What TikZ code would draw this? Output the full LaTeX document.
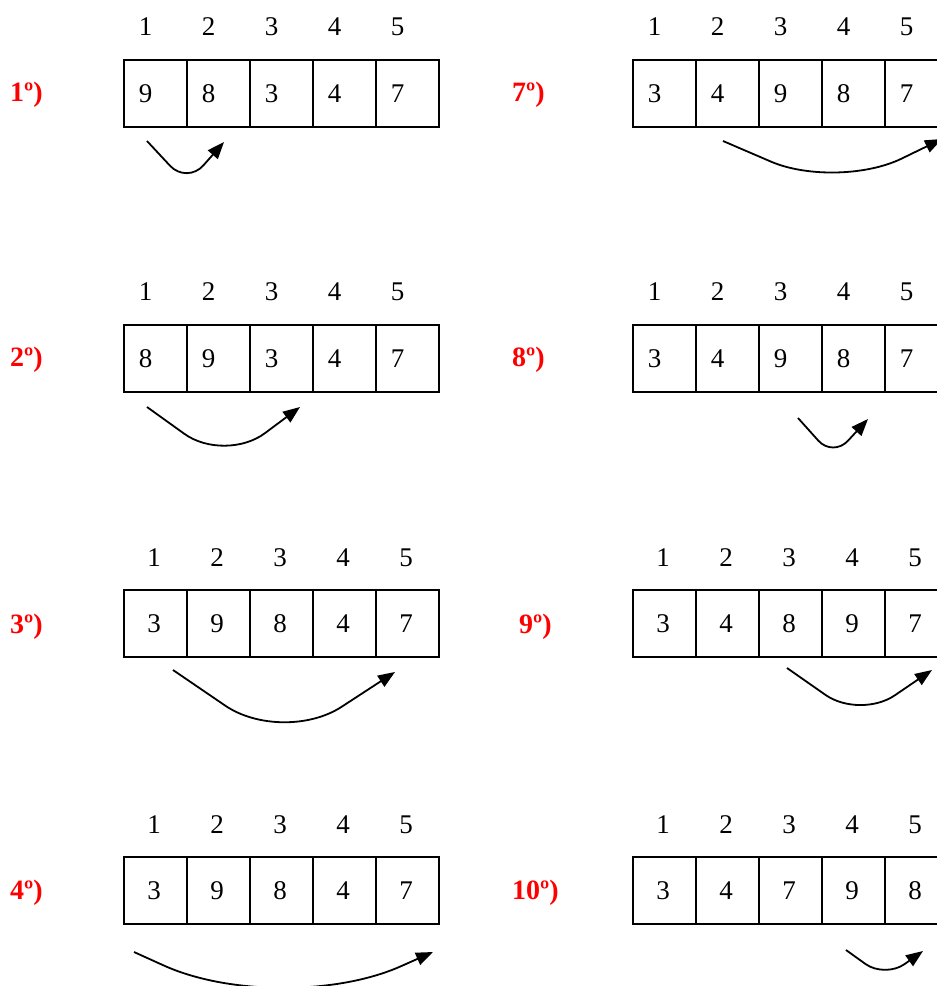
\documentclass[tikz,border=0pt]{standalone}
\usepackage{fontspec}
\setmainfont{Liberation Serif}
\usetikzlibrary{arrows.meta}

\tikzset{
  cellbox/.style={draw, line width=2pt, minimum width=63pt, minimum height=67pt, inner sep=0pt},
  idx/.style={font=\fontsize{27}{32}\selectfont, inner sep=0pt},
  val/.style={font=\fontsize{27}{32}\selectfont, inner sep=0pt},
  passo/.style={font=\fontsize{28}{33}\selectfont\bfseries, text=red, anchor=west, inner sep=0pt},
  troca/.style={line width=1.8pt, -{Triangle[length=17pt,width=13pt]}}
}

\begin{document}
\begin{tikzpicture}[x=1pt,y=-1pt]
\useasboundingbox (0,0) rectangle (937,986);
% left column
\begin{scope}[shift={(124,60)}]
\foreach \v [count=\i] in {9,8,3,4,7} {
  \node[cellbox] (p1c\i) at (-31.5+63*\i,33.5) {};
  \node[idx] (p1h\i) at (-41.5+63*\i,-33) {\i};
  \node[val] (p1v\i) at (-41.5+63*\i,33.5) {\v};
}
\node[passo] (p1lab) at (-114,35) {1º)};
\coordinate (p1s) at (23,81);
\coordinate (p1k) at (63,124);
\coordinate (p1e) at (100,82);
\draw[troca, rounded corners=25pt] (p1s) -- (p1k) -- (p1e);
\end{scope}
\begin{scope}[shift={(124,325)}]
\foreach \v [count=\i] in {8,9,3,4,7} {
  \node[cellbox] (p2c\i) at (-31.5+63*\i,33.5) {};
  \node[idx] (p2h\i) at (-41.5+63*\i,-33) {\i};
  \node[val] (p2v\i) at (-41.5+63*\i,33.5) {\v};
}
\node[passo] (p2lab) at (-114,35) {2º)};
\coordinate (p2s) at (23,82);
\coordinate (p2k) at (101,138);
\coordinate (p2e) at (176,82);
\draw[troca, rounded corners=50pt] (p2s) -- (p2k) -- (p2e);
\end{scope}
\begin{scope}[shift={(124,590)}]
\foreach \v [count=\i] in {3,9,8,4,7} {
  \node[cellbox] (p3c\i) at (-31.5+63*\i,33.5) {};
  \node[idx] (p3h\i) at (-33+63*\i,-32) {\i};
  \node[val] (p3v\i) at (-33+63*\i,33.5) {\v};
}
\node[passo] (p3lab) at (-114,37) {3º)};
\coordinate (p3s) at (49,80);
\coordinate (p3k) at (159,155);
\coordinate (p3e) at (271,82);
\draw[troca, rounded corners=70pt] (p3s) -- (p3k) -- (p3e);
\end{scope}
\begin{scope}[shift={(124,857)}]
\foreach \v [count=\i] in {3,9,8,4,7} {
  \node[cellbox] (p4c\i) at (-31.5+63*\i,33.5) {};
  \node[idx] (p4h\i) at (-33+63*\i,-32) {\i};
  \node[val] (p4v\i) at (-33+63*\i,33.5) {\v};
}
\node[passo] (p4lab) at (-114,36) {4º)};
\coordinate (p4s) at (10,95);
\coordinate (p4k) at (158,162);
\coordinate (p4e) at (309,95);
\draw[troca, rounded corners=130pt] (p4s) -- (p4k) -- (p4e);
\end{scope}
% right column
\begin{scope}[shift={(633,60)}]
\foreach \v [count=\i] in {3,4,9,8,7} {
  \node[cellbox] (p7c\i) at (-31.5+63*\i,33.5) {};
  \node[idx] (p7h\i) at (-41.5+63*\i,-33) {\i};
  \node[val] (p7v\i) at (-41.5+63*\i,33.5) {\v};
}
\node[passo] (p7lab) at (-121,35) {7º)};
\coordinate (p7s) at (90,81);
\coordinate (p7k) at (204,130);
\coordinate (p7e) at (309,79);
\draw[troca, rounded corners=72pt] (p7s) -- (p7k) -- (p7e);
\end{scope}
\begin{scope}[shift={(633,325)}]
\foreach \v [count=\i] in {3,4,9,8,7} {
  \node[cellbox] (p8c\i) at (-31.5+63*\i,33.5) {};
  \node[idx] (p8h\i) at (-41.5+63*\i,-33) {\i};
  \node[val] (p8v\i) at (-41.5+63*\i,33.5) {\v};
}
\node[passo] (p8lab) at (-121,35) {8º)};
\coordinate (p8s) at (165,93);
\coordinate (p8k) at (200,132);
\coordinate (p8e) at (235,94);
\draw[troca, rounded corners=22pt] (p8s) -- (p8k) -- (p8e);
\end{scope}
\begin{scope}[shift={(633,590)}]
\foreach \v [count=\i] in {3,4,8,9,7} {
  \node[cellbox] (p9c\i) at (-31.5+63*\i,33.5) {};
  \node[idx] (p9h\i) at (-33+63*\i,-32) {\i};
  \node[val] (p9v\i) at (-33+63*\i,33.5) {\v};
}
\node[passo] (p9lab) at (-114,37) {9º)};
\coordinate (p9s) at (154,78);
\coordinate (p9k) at (227,129);
\coordinate (p9e) at (299,80);
\draw[troca, rounded corners=42pt] (p9s) -- (p9k) -- (p9e);
\end{scope}
\begin{scope}[shift={(633,857)}]
\foreach \v [count=\i] in {3,4,7,9,8} {
  \node[cellbox] (p10c\i) at (-31.5+63*\i,33.5) {};
  \node[idx] (p10h\i) at (-33+63*\i,-32) {\i};
  \node[val] (p10v\i) at (-33+63*\i,33.5) {\v};
}
\node[passo] (p10lab) at (-121,36) {10º)};
\coordinate (p10s) at (213,93);
\coordinate (p10k) at (252,121);
\coordinate (p10e) at (290,94);
\draw[troca, rounded corners=24pt] (p10s) -- (p10k) -- (p10e);
\end{scope}
\end{tikzpicture}
\end{document}
